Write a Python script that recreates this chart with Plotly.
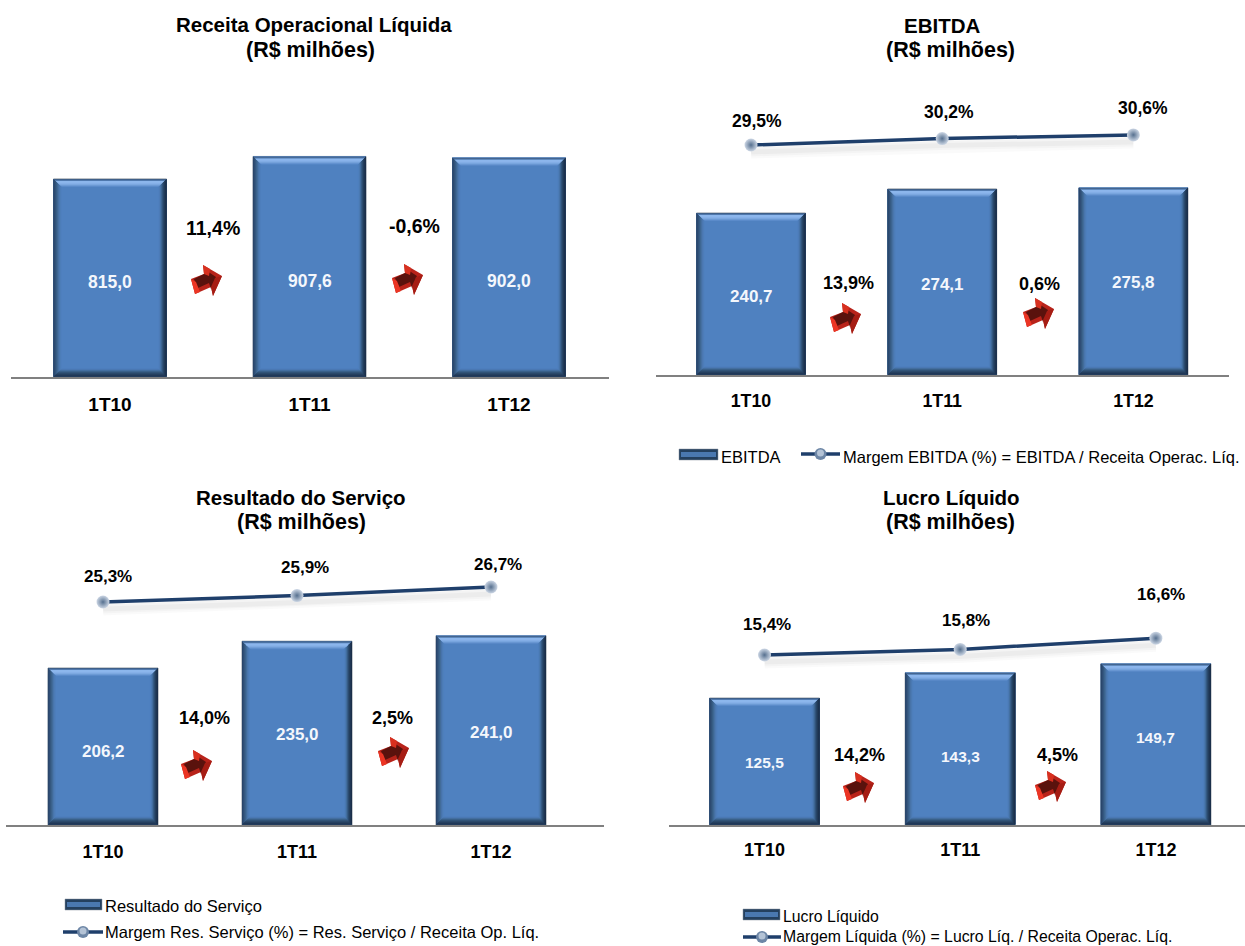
import plotly.graph_objects as go

W, H = 1245, 946
FONT = "Liberation Sans"

# ---------- data ----------
categories = ["1T10", "1T11", "1T12"]
receita = [815.0, 907.6, 902.0]
ebitda = [240.7, 274.1, 275.8]
resultado = [206.2, 235.0, 241.0]
lucro = [125.5, 143.3, 149.7]
margem_ebitda = [29.5, 30.2, 30.6]
margem_resultado = [25.3, 25.9, 26.7]
margem_lucro = [15.4, 15.8, 16.6]
cresc_receita = ["11,4%", "-0,6%"]
cresc_ebitda = ["13,9%", "0,6%"]
cresc_resultado = ["14,0%", "2,5%"]
cresc_lucro = ["14,2%", "4,5%"]
titles = ["Receita Operacional Líquida", "EBITDA", "Resultado do Serviço", "Lucro Líquido"]
subtitle = "(R$ milhões)"

# ---------- layout of each panel (pixels) ----------
panels = [
    dict(vals=receita, marg=None, growth=cresc_receita, title=titles[0],
         left=11, right=609, c0=110, sp=199.5, barw=113, axy=377, base=0, pxu=0.243,
         title_xy=(314, 25, 50), sub_x=310, vfont=17.5, tfont=19, gfont=19.5, tso=9,
         vy=[282, 281, 281], gxy=[(213, 228), (414, 226)], arrows=[(206, 281), (407, 280)]),
    dict(vals=ebitda, marg=margem_ebitda, growth=cresc_ebitda, title=titles[1],
         left=656, right=1229, c0=751, sp=191.2, barw=109, axy=375, base=15.7, pxu=0.72,
         title_xy=(942, 26, 50), sub_x=950, vfont=17, tfont=17.8, gfont=18, mfont=17.5, tso=9, lpx=9.2, ly0=145,
         vy=[296, 284, 283], gxy=[(848, 283), (1039, 284)], arrows=[(845, 319), (1038, 314)],
         mxy=[(757, 121), (949, 112), (1143, 108)]),
    dict(vals=resultado, marg=margem_resultado, growth=cresc_resultado, title=titles[2],
         left=6, right=604, c0=103, sp=194, barw=110, axy=825, base=37.4, pxu=0.93,
         title_xy=(301, 498, 522), sub_x=301, vfont=17, tfont=18, gfont=18, mfont=17, tso=10, lpx=10.7, ly0=602,
         vy=[751, 734, 732], gxy=[(204, 718), (393, 718)], arrows=[(196, 766), (393, 753)],
         mxy=[(108, 576), (305, 567), (498, 564)]),
    dict(vals=lucro, marg=margem_lucro, growth=cresc_lucro, title=titles[3],
         left=669, right=1245, c0=764.5, sp=195.7, barw=110, axy=825, base=36.1, pxu=1.42,
         title_xy=(951, 498, 522), sub_x=950, vfont=15.5, tfont=18, gfont=18, mfont=17, tso=8, lpx=14, ly0=655,
         vy=[762, 756, 737], gxy=[(859, 755), (1057, 755)], arrows=[(858, 788), (1050, 787)],
         mxy=[(767, 624), (966, 620), (1161, 594)]),
]

BAR = "#4f81c0"
NAVY = "#1f3f6b"


def fx(x):
    return x / W


def fy(y):
    return 1 - y / H


def poly(points, fill):
    path = "M " + " L ".join(f"{fx(x):.5f},{fy(y):.5f}" for x, y in points) + " Z"
    return dict(type="path", xref="paper", yref="paper", path=path, fillcolor=fill,
                line=dict(width=0), layer="above")


def text(x, y, s, size, color="#000000", bold=True, anchor="center"):
    return dict(xref="paper", yref="paper", x=fx(x), y=fy(y), text=s, showarrow=False,
                xanchor=anchor, yanchor="middle",
                font=dict(family=FONT, size=size, color=color, weight=700 if bold else 400))


# stepped colours from the bar's edge inward, to imitate the soft bevel
BEVEL = dict(
    top=["#3f5f88", "#4f78ad", "#8cb6ec", "#8cb6ec", "#86b0e8", "#7ca8e0", "#6c9ad5", "#5b8bca"],
    bottom=["#1f3452", "#233c5c", "#284464", "#2e4e70", "#35587f", "#3f6894", "#4875ab", "#4d7dba"],
    left=["#2a466a", "#2f4e76", "#35587f", "#3b628c", "#426c9a", "#4975ab", "#4c7bb5", "#4e7fbc"],
    right=["#1b2f4a", "#1f3654", "#24405f", "#2c4c70", "#365c86", "#426e9f", "#4a79b2", "#4e7fbc"],
)


def bevel(l, r, t, b):
    # painted from the widest band to the narrowest, so no seams show through
    out = []
    for j in range(7, -1, -1):
        c = j + 1
        out.append(poly([(l, t), (r, t), (r - c, t + c), (l + c, t + c)], BEVEL["top"][j]))
        out.append(poly([(l, b), (r, b), (r - c, b - c), (l + c, b - c)], BEVEL["bottom"][j]))
        out.append(poly([(l, t), (l + c, t + c), (l + c, b - c), (l, b)], BEVEL["left"][j]))
        out.append(poly([(r, t), (r - c, t + c), (r - c, b - c), (r, b)], BEVEL["right"][j]))
    return out


def arrow(cx, cy):
    pts = lambda p: [(cx + a, cy + b) for a, b in p]
    return [
        poly(pts([(-15, -2), (-2, -7), (-3, -16), (16, -5), (7, 15), (5, 6), (-11, 13)]), "#b8231a"),
        poly(pts([(-12, -2), (-2, -7), (-2, -12), (10, -4), (5, 8), (3, 2), (-8, 7)]), "#5a120d"),
        poly(pts([(-15, -2), (-10, 1), (-6, 11), (-11, 13)]), "#ec3524"),
        poly(pts([(-3, -16), (4, -12), (3, -5), (-2, -7)]), "#d8301f"),
        poly(pts([(9, -3), (16, -5), (7, 15), (5, 6)]), "#a61d14"),
    ]


fig = go.Figure()
layout = {}
shapes, annots = [], []
SPAN = 300

for i, p in enumerate(panels):
    xa, ya, ya2 = f"x{i + 1}", f"y{2 * i + 1}", f"y{2 * i + 2}"
    top = p["axy"] - SPAN
    layout[f"xaxis{i + 1}"] = dict(
        domain=[fx(p["left"]), fx(p["right"])], anchor=ya, type="category",
        categoryorder="array", categoryarray=categories,
        range=[(p["left"] - p["c0"]) / p["sp"], (p["right"] - p["c0"]) / p["sp"]],
        showgrid=False, zeroline=False, showline=True, linecolor="#808080", linewidth=1.5,
        ticks="", ticklabelstandoff=p["tso"],
        tickfont=dict(family=FONT, size=p["tfont"], color="#000000", weight=700))
    layout[f"yaxis{2 * i + 1}"] = dict(
        domain=[fy(p["axy"]), fy(top)], anchor=xa, visible=False, showgrid=False,
        range=[p["base"], p["base"] + SPAN / p["pxu"]])
    fig.add_trace(go.Bar(x=categories, y=p["vals"], xaxis=xa, yaxis=ya,
                         width=p["barw"] / p["sp"], marker=dict(color=BAR, line=dict(color="#8a939c", width=1)),
                         showlegend=False, hoverinfo="skip"))
    for k, v in enumerate(p["vals"]):
        c = p["c0"] + k * p["sp"]
        t = p["axy"] - (v - p["base"]) * p["pxu"]
        shapes += bevel(c - p["barw"] / 2, c + p["barw"] / 2, t, p["axy"] - 0.5)
        annots.append(text(c, p["vy"][k], f"{v:.1f}".replace(".", ","), p["vfont"], "#f4f7fc"))
    if p["marg"]:
        m0 = p["marg"][0]
        layout[f"yaxis{2 * i + 2}"] = dict(
            domain=[fy(p["axy"]), fy(top)], anchor=xa, overlaying=ya, visible=False, showgrid=False,
            range=[m0 - (p["axy"] - p["ly0"]) / p["lpx"], m0 + (p["ly0"] - top) / p["lpx"]])
        for width, alpha in [(13, 0.02), (9, 0.025), (5, 0.03)]:
            fig.add_trace(go.Scatter(x=categories, y=[m - 7 / p["lpx"] for m in p["marg"]], xaxis=xa, yaxis=ya2,
                                     mode="lines", line=dict(color=f"rgba(0,0,0,{alpha})", width=width),
                                     showlegend=False, hoverinfo="skip"))
        fig.add_trace(go.Scatter(x=categories, y=p["marg"], xaxis=xa, yaxis=ya2, mode="lines+markers",
                                 line=dict(color=NAVY, width=3.5),
                                 marker=dict(size=13, color="#cdd7e5",
                                             gradient=dict(type="radial", color="#56708f"),
                                             line=dict(width=0)),
                                 showlegend=False, hoverinfo="skip"))
        for (x, y), m in zip(p["mxy"], p["marg"]):
            annots.append(text(x, y, f"{m:.1f}".replace(".", ",") + "%", p["mfont"]))
    for (x, y), s in zip(p["gxy"], p["growth"]):
        annots.append(text(x, y, s, p["gfont"]))
    for a in p["arrows"]:
        shapes += arrow(*a)
    tx, y1, y2 = p["title_xy"]
    annots.append(text(tx, y1, p["title"], 20.5))
    annots.append(text(p["sub_x"], y2, subtitle, 21.5))


def legend_bar(l, r, y, label, tx, ty, size):
    shapes.append(dict(type="rect", xref="paper", yref="paper", x0=fx(l), x1=fx(r), y0=fy(y + 5.5), y1=fy(y - 5.5),
                       fillcolor="#24405f", line=dict(color="#8a939c", width=0.5), layer="above"))
    shapes.append(dict(type="rect", xref="paper", yref="paper", x0=fx(l + 2), x1=fx(r - 2), y0=fy(y + 2.5), y1=fy(y - 2.5),
                       fillcolor="#4a78b0", line=dict(width=0), layer="above"))
    annots.append(text(tx, ty, label, size, "#000000", False, "left"))


def legend_line(l, r, y, label, tx, ty, size):
    shapes.append(dict(type="line", xref="paper", yref="paper", x0=fx(l), x1=fx(r), y0=fy(y), y1=fy(y),
                       line=dict(color=NAVY, width=3.5), layer="above"))
    c = (l + r) / 2
    shapes.append(dict(type="circle", xref="paper", yref="paper", x0=fx(c - 6), x1=fx(c + 6), y0=fy(y + 6), y1=fy(y - 6),
                       fillcolor="#6d86a6", line=dict(width=0), layer="above"))
    shapes.append(dict(type="circle", xref="paper", yref="paper", x0=fx(c - 3.5), x1=fx(c + 3.5), y0=fy(y + 2.5), y1=fy(y - 4.5),
                       fillcolor="#b4c3d6", line=dict(width=0), layer="above"))
    annots.append(text(tx, ty, label, size, "#000000", False, "left"))


legend_bar(679, 718, 454.5, "EBITDA", 719, 457, 16.5)
legend_line(801, 840, 454, "Margem EBITDA (%) = EBITDA / Receita Operac. Líq.", 841, 457, 16.5)
legend_bar(65, 102, 904.5, "Resultado do Serviço", 103, 906, 16.5)
legend_line(63, 103, 932, "Margem Res. Serviço (%) = Res. Serviço / Receita Op. Líq.", 103, 932, 16.5)
legend_bar(743, 780, 914.5, "Lucro Líquido", 781, 916, 15.8)
legend_line(743, 781, 937, "Margem Líquida (%) = Lucro Líq. / Receita Operac. Líq.", 781, 936.5, 15.8)

fig.update_layout(width=W, height=H, autosize=False, margin=dict(l=0, r=0, t=0, b=0),
                  paper_bgcolor="#ffffff", plot_bgcolor="rgba(0,0,0,0)",
                  barmode="overlay", shapes=shapes, annotations=annots, showlegend=False,
                  font=dict(family=FONT), **layout)
fig.write_html("out.html", config=dict(displayModeBar=False),
               post_script="document.body.style.margin='0';document.documentElement.style.overflow='hidden';")
